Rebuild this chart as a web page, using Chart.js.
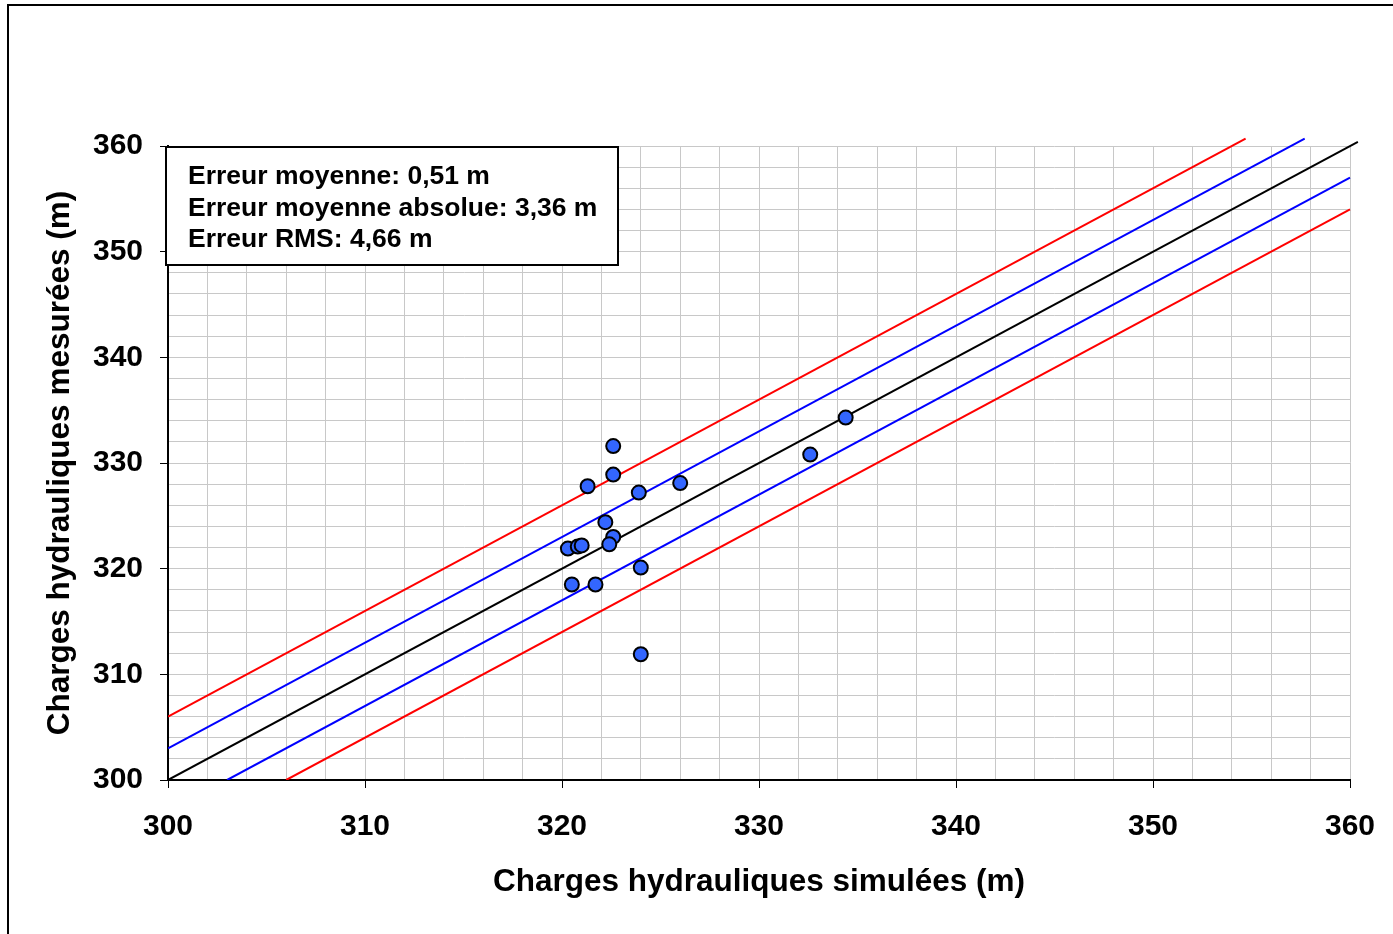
<!DOCTYPE html>
<html>
<head>
<meta charset="utf-8">
<script src="https://cdn.jsdelivr.net/npm/chart.js@4/dist/chart.umd.min.js"></script>
<style>
  body { margin: 0; background: #fff; }
  #wrap { position: relative; width: 1393px; height: 934px; overflow: hidden; }
  #frame { position: absolute; left: 7px; top: 4px; width: 1500px; height: 1000px; border: 2px solid #000; box-sizing: border-box; }
  canvas { position: absolute; left: 0; top: 0; }
</style>
</head>
<body>
<div id="wrap">
  <div id="frame"></div>
  <canvas id="calibChart" width="1393" height="934"></canvas>
</div>
<script>
const ctx = document.getElementById("calibChart").getContext("2d");

// charges simulées / mesurées (m)
const simulees = [322.6, 322.6, 321.3, 323.9, 326.0, 322.2, 322.6, 322.4, 320.3, 320.8, 321.0, 324.0, 320.5, 321.7, 324.0, 332.6, 334.4];
const mesurees = [331.6, 328.9, 327.8, 327.2, 328.1, 324.4, 323.0, 322.3, 321.9, 322.1, 322.2, 320.1, 318.5, 318.5, 311.9, 330.8, 334.3];

// droites de référence : y = x, ±3 m, ±6 m
const ligneParfaite = [{ x: 300, y: 300 }, { x: 360.4, y: 360.4 }];
const ligneBleueHaut = [{ x: 300, y: 303 }, { x: 357.7, y: 360.7 }];
const ligneBleueBas = [{ x: 303, y: 300 }, { x: 360, y: 357 }];
const ligneRougeHaut = [{ x: 300, y: 306 }, { x: 354.7, y: 360.7 }];
const ligneRougeBas = [{ x: 306, y: 300 }, { x: 360, y: 354 }];

const statsLignes = [
  "Erreur moyenne: 0,51 m",
  "Erreur moyenne absolue: 3,36 m",
  "Erreur RMS: 4,66 m"
];

const points = simulees.map((x, i) => ({ x, y: mesurees[i] }));

function ligne(data, color) {
  return {
    type: "line",
    data,
    borderColor: color,
    borderWidth: 2,
    pointRadius: 0,
    fill: false,
    clip: { left: 0, top: 10, right: 10, bottom: 0 }
  };
}

const boiteStats = {
  id: "boiteStats",
  afterDatasetsDraw(chart) {
    const a = chart.chartArea;
    const c = chart.ctx;
    const x = a.left - 2, y = a.top + 1, w = 452, h = 118;
    c.save();
    c.fillStyle = "#fff";
    c.fillRect(x, y, w, h);
    c.strokeStyle = "#000";
    c.lineWidth = 2;
    c.strokeRect(x, y, w, h);
    c.fillStyle = "#000";
    c.font = "bold 26.5px 'Liberation Sans', Arial, sans-serif";
    c.textBaseline = "middle";
    statsLignes.forEach((t, i) => {
      c.fillText(t, x + 22, y + 30 + i * 31.5);
    });
    c.restore();
  }
};

const majeur = (v) => Math.round(v) % 10 === 0;
const police = "'Liberation Sans', Arial, sans-serif";

new Chart(ctx, {
  type: "scatter",
  data: {
    datasets: [
      {
        data: points,
        backgroundColor: "#3366FF",
        borderColor: "#000",
        borderWidth: 2,
        pointRadius: 7,
        pointHoverRadius: 7
      },
      ligne(ligneParfaite, "#000"),
      ligne(ligneBleueHaut, "#0000FF"),
      ligne(ligneBleueBas, "#0000FF"),
      ligne(ligneRougeHaut, "#FF0000"),
      ligne(ligneRougeBas, "#FF0000")
    ]
  },
  options: {
    responsive: false,
    animation: false,
    layout: { padding: { left: 0, top: 146, right: 43, bottom: 0 } },
    plugins: {
      legend: { display: false },
      tooltip: { enabled: false }
    },
    scales: {
      x: {
        min: 300,
        max: 360,
        afterFit: (s) => { s.height = 154; s.paddingLeft = 0; s.paddingRight = 0; },
        ticks: {
          stepSize: 2,
          autoSkip: false,
          maxRotation: 0,
          padding: 21,
          color: "#000",
          font: { family: police, size: 30, weight: "bold" },
          callback: (v) => (majeur(v) ? v : "")
        },
        grid: {
          color: "#c8c8c8",
          tickLength: 8,
          tickColor: (c) => (c.tick && majeur(c.tick.value) ? "#000" : "rgba(0,0,0,0)")
        },
        border: { color: "#000", width: 2 },
        title: {
          display: true,
          text: "Charges hydrauliques simulées (m)",
          color: "#000",
          font: { family: police, size: 31.5, weight: "bold" },
          padding: { top: 0, bottom: 33 }
        }
      },
      y: {
        min: 300,
        max: 360,
        afterFit: (s) => { s.width = 168; s.paddingTop = 0; s.paddingBottom = 0; },
        ticks: {
          stepSize: 2,
          autoSkip: false,
          padding: 17,
          color: "#000",
          font: { family: police, size: 30, weight: "bold" },
          callback: (v) => (majeur(v) ? v : "")
        },
        grid: {
          color: "#c8c8c8",
          tickLength: 8,
          tickColor: (c) => (c.tick && majeur(c.tick.value) ? "#000" : "rgba(0,0,0,0)")
        },
        border: { color: "#000", width: 2 },
        title: {
          display: true,
          text: "Charges hydrauliques mesurées (m)",
          color: "#000",
          font: { family: police, size: 31.5, weight: "bold" },
          padding: { top: 41, bottom: 0 }
        }
      }
    }
  },
  plugins: [boiteStats]
});
</script>
</body>
</html>
